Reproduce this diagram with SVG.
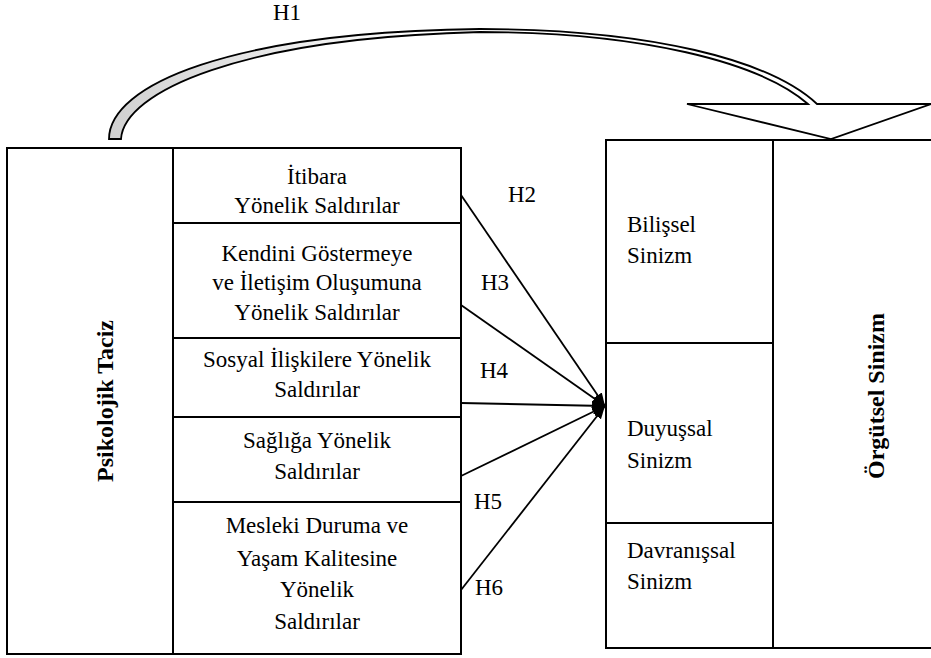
<svg xmlns="http://www.w3.org/2000/svg" width="931" height="658" viewBox="0 0 931 658">
<style>
  .box { fill: #fff; stroke: #000; stroke-width: 2; }
  .div { stroke: #000; stroke-width: 2; fill: none; }
  .t { font-family: "Liberation Serif", "DejaVu Serif", serif; font-size: 23px; fill: #000; }
  .c { text-anchor: middle; }
  .b { font-weight: bold; font-size: 24px; }
  .con { stroke: #000; stroke-width: 1.8; fill: none; marker-end: url(#ah); }
</style>
<defs>
  <marker id="ah" markerUnits="userSpaceOnUse" markerWidth="14" markerHeight="12" refX="13" refY="6" orient="auto">
    <path d="M0,1 L13,6 L0,11 Z" fill="#000"/>
  </marker>
  <linearGradient id="sg" gradientUnits="userSpaceOnUse" x1="100" y1="0" x2="420" y2="0">
    <stop offset="0" stop-color="#cfcfcf"/>
    <stop offset="1" stop-color="#ffffff"/>
  </linearGradient>
</defs>

<g id="h1-arrow">
  <path d="M109,139 C109,85 230,32 480,29 C650,29 770,60 817,104 L931,104 L831,139 L687,104 L808,104 C760,62 640,32 480,32 C240,38 124,92 121,139 Z" fill="url(#sg)" stroke="#000" stroke-width="1.8" stroke-linejoin="miter"/>
  <text class="t c" x="287" y="20" font-family="Liberation Serif, serif">H1</text>
</g>

<g id="psikolojik-taciz">
  <rect class="box" x="7" y="148" width="454" height="506"/>
  <line class="div" x1="173" y1="148" x2="173" y2="654"/>
  <text class="t c b" transform="translate(113,401) rotate(-90)">Psikolojik Taciz</text>
</g>

<g id="itibara">
  <line class="div" x1="173" y1="223" x2="461" y2="223"/>
  <text class="t c" x="317" y="184">İtibara</text>
  <text class="t c" x="317" y="213">Yönelik Saldırılar</text>
</g>

<g id="kendini-gostermeye">
  <line class="div" x1="173" y1="338" x2="461" y2="338"/>
  <text class="t c" x="317" y="261">Kendini Göstermeye</text>
  <text class="t c" x="317" y="290">ve İletişim Oluşumuna</text>
  <text class="t c" x="317" y="320">Yönelik Saldırılar</text>
</g>

<g id="sosyal-iliskiler">
  <line class="div" x1="173" y1="417" x2="461" y2="417"/>
  <text class="t c" x="317" y="367">Sosyal İlişkilere Yönelik</text>
  <text class="t c" x="317" y="397">Saldırılar</text>
</g>

<g id="sagliga">
  <line class="div" x1="173" y1="502" x2="461" y2="502"/>
  <text class="t c" x="317" y="448">Sağlığa Yönelik</text>
  <text class="t c" x="317" y="479">Saldırılar</text>
</g>

<g id="mesleki-durum">
  <text class="t c" x="317" y="533">Mesleki Duruma ve</text>
  <text class="t c" x="317" y="566">Yaşam Kalitesine</text>
  <text class="t c" x="317" y="597">Yönelik</text>
  <text class="t c" x="317" y="629">Saldırılar</text>
</g>

<g id="orgutsel-sinizm">
  <rect class="box" x="606" y="140" width="332" height="508"/>
  <line class="div" x1="773" y1="140" x2="773" y2="648"/>
  <text class="t c b" transform="translate(884,396) rotate(-90)">Örgütsel Sinizm</text>
</g>

<g id="bilissel">
  <line class="div" x1="606" y1="343" x2="773" y2="343"/>
  <text class="t" x="627" y="232">Bilişsel</text>
  <text class="t" x="627" y="263">Sinizm</text>
</g>

<g id="duyussal">
  <line class="div" x1="606" y1="523" x2="773" y2="523"/>
  <text class="t" x="627" y="436">Duyuşsal</text>
  <text class="t" x="627" y="468">Sinizm</text>
</g>

<g id="davranissal">
  <text class="t" x="627" y="558">Davranışsal</text>
  <text class="t" x="627" y="589">Sinizm</text>
</g>

<g id="connectors">
  <line class="con" x1="461" y1="195" x2="605" y2="406"/>
  <line class="con" x1="461" y1="305" x2="605" y2="406"/>
  <line class="con" x1="461" y1="403" x2="605" y2="406"/>
  <line class="con" x1="461" y1="476" x2="605" y2="406"/>
  <line class="con" x1="461" y1="590" x2="605" y2="406"/>
  <text class="t c" x="522" y="202">H2</text>
  <text class="t c" x="495" y="290">H3</text>
  <text class="t c" x="494" y="378">H4</text>
  <text class="t c" x="488" y="509">H5</text>
  <text class="t c" x="489" y="595">H6</text>
</g>
</svg>
